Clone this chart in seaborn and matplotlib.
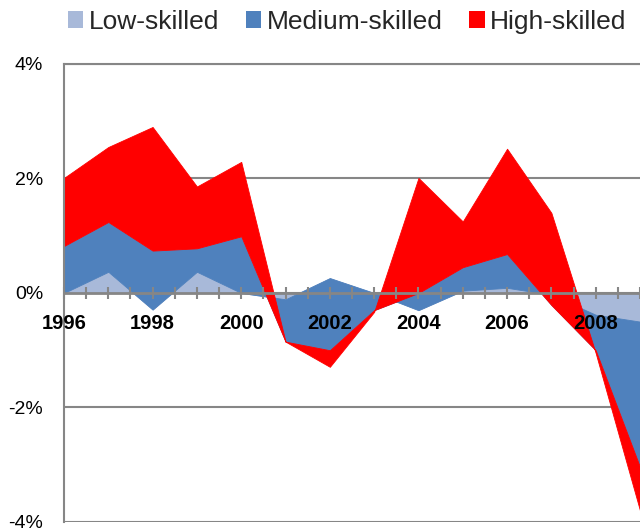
import numpy as np
import pandas as pd
import matplotlib
matplotlib.use("Agg")
import matplotlib.pyplot as plt
import seaborn as sns
from matplotlib.patches import Patch
from matplotlib.ticker import MultipleLocator, FuncFormatter

# datos (contribución en puntos porcentuales)
years = list(range(1996, 2010))
low_skilled = [0.00, 0.37, -0.29, 0.37, 0.00, -0.11, 0.26, 0.00, -0.30, 0.04, 0.09, -0.03, -0.38, -0.50]
medium_skilled = [0.82, 0.87, 1.03, 0.41, 0.99, -0.74, -1.26, -0.30, 0.30, 0.41, 0.59, -0.18, -0.62, -2.54]
high_skilled = [1.19, 1.31, 2.16, 1.08, 1.30, 0.00, -0.29, -0.03, 2.01, 0.80, 1.84, 1.61, -0.05, -0.76]
series_names = ["Low-skilled", "Medium-skilled", "High-skilled"]
colores = ["#A8B9D9", "#4F81BD", "#FF0000"]

data = pd.DataFrame({"year": years, "Low-skilled": low_skilled,
                     "Medium-skilled": medium_skilled, "High-skilled": high_skilled})

sns.set_theme(style="white")
plt.rcParams["font.family"] = ["Liberation Sans", "DejaVu Sans"]

fig = plt.figure(figsize=(6.4, 5.31), dpi=100)
ax = fig.add_axes([0.1, 0.017, 0.9, 0.8625])

ax.stackplot(data["year"], [data[c] for c in series_names], colors=colores,
             labels=series_names, zorder=1, edgecolor="face", linewidth=0.6)

ax.set_xlim(1996, 2009)
ax.set_ylim(-4, 4)

gris = "#868686"
# rejilla horizontal detrás de las áreas
ax.yaxis.set_major_locator(MultipleLocator(2))
ax.yaxis.set_major_formatter(FuncFormatter(lambda v, p: f"{v:.0f}%"))
ax.grid(axis="y", color=gris, linewidth=1.5)
ax.grid(axis="x", visible=False)
ax.yaxis.set_zorder(0.5)
ax.xaxis.set_zorder(3)

# eje x sobre el 0%
ax.spines["bottom"].set_position(("data", 0))
ax.spines["bottom"].set_color(gris)
ax.spines["bottom"].set_linewidth(2)
ax.spines["bottom"].set_zorder(3)
ax.spines["left"].set_color(gris)
ax.spines["left"].set_linewidth(1.5)
ax.spines["top"].set_color(gris)
ax.spines["top"].set_linewidth(1.5)
ax.spines["right"].set_visible(False)

ax.xaxis.set_major_locator(MultipleLocator(2))
ax.xaxis.set_minor_locator(MultipleLocator(0.5))
ax.xaxis.set_major_formatter(FuncFormatter(lambda v, p: f"{int(v)}"))
ax.tick_params(axis="x", which="both", direction="inout", length=8, width=1.5,
               color=gris, labelsize=14.5, pad=11, labelcolor="black", bottom=True)
for lab in ax.get_xticklabels():
    lab.set_fontweight("bold")
ax.tick_params(axis="y", length=0, labelsize=14, pad=15, labelcolor="black")

handles = [Patch(facecolor=c, edgecolor="none") for c in colores]
fig.legend(handles, series_names, loc="center", bbox_to_anchor=(347 / 640, 1 - 22 / 531),
           ncol=3, frameon=False, fontsize=19, handlelength=0.6, handleheight=0.6,
           handletextpad=0.2, columnspacing=1.0, borderpad=0, borderaxespad=0)

fig.savefig("out.png", dpi=100)
